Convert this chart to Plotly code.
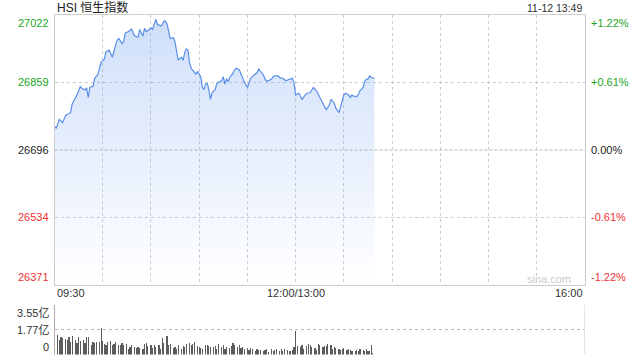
import plotly.graph_objects as go

# ---- data (minutes since 09:30 on the trading-time axis, 150 = 12:00/13:00) ----
price_min = [0, 1, 3, 4, 5, 7, 9, 10, 11, 13, 14, 16, 17, 19, 20, 21, 22, 24, 25, 27,
             28, 29, 31, 32, 34, 36, 38, 39, 40, 42, 43, 44, 46, 48, 49, 50, 52, 53, 55, 56,
             57, 58, 60, 61, 62, 63, 64, 66, 67, 68, 69, 70, 71, 72, 74, 75, 76, 77, 79, 80,
             81, 82, 83, 84, 85, 87, 88, 89, 91, 92, 93, 94, 95, 96, 97, 98, 100, 101, 103, 104,
             105, 106, 107, 108, 109, 111, 112, 113, 115, 116, 117, 118, 120, 121, 122, 123, 125, 126, 127, 129,
             130, 131, 132, 134, 135, 136, 137, 139, 140, 142, 143, 144, 145, 147, 148, 149, 150, 152, 153, 154,
             156, 157, 159, 160, 161, 163, 164, 165, 166, 168, 169, 171, 172, 174, 175, 177, 178, 179, 180, 181,
             183, 184, 185, 186, 188, 189, 190, 192, 193, 194, 195, 196, 197, 199]
price_val = [26754, 26748, 26770, 26767, 26762, 26780, 26783, 26786, 26807, 26821, 26829, 26849, 26845, 26841, 26846, 26823, 26847, 26850, 26869, 26879,
             26897, 26908, 26915, 26933, 26937, 26920, 26949, 26961, 26965, 26953, 26957, 26978, 26982, 26988, 26978, 26971, 26968, 26987, 26971, 26990,
             26982, 26984, 26991, 26987, 26999, 27011, 27000, 26995, 26998, 27007, 27007, 27000, 26982, 26965, 26967, 26957, 26933, 26913, 26920, 26912,
             26931, 26940, 26937, 26907, 26893, 26885, 26879, 26885, 26873, 26847, 26842, 26855, 26857, 26842, 26818, 26834, 26842, 26857, 26861, 26863,
             26873, 26855, 26868, 26861, 26871, 26881, 26889, 26893, 26889, 26879, 26869, 26861, 26847, 26861, 26869, 26873, 26879, 26883, 26891, 26883,
             26877, 26867, 26862, 26865, 26867, 26873, 26875, 26875, 26871, 26869, 26867, 26863, 26865, 26867, 26869, 26858, 26829, 26833, 26823, 26818,
             26829, 26833, 26834, 26841, 26847, 26839, 26831, 26825, 26813, 26799, 26793, 26805, 26818, 26809, 26797, 26786, 26802, 26813, 26829, 26833,
             26829, 26823, 26829, 26826, 26825, 26830, 26839, 26847, 26861, 26867, 26867, 26875, 26871, 26869]

vol_min = [0, 2, 3, 4, 5, 7, 8, 9, 10, 11, 13, 14, 15, 16, 18, 19, 20, 21, 23, 24,
           25, 26, 28, 29, 30, 31, 32, 33, 35, 36, 37, 38, 40, 41, 42, 43, 45, 46, 47, 48,
           50, 51, 52, 53, 55, 56, 57, 58, 60, 61, 62, 63, 65, 66, 67, 68, 70, 71, 72, 74,
           75, 76, 77, 79, 80, 81, 82, 84, 85, 86, 87, 89, 90, 91, 92, 94, 95, 96, 97, 99,
           100, 101, 102, 104, 105, 106, 107, 109, 110, 111, 112, 114, 115, 116, 117, 118, 120, 121, 122, 123,
           125, 126, 127, 128, 130, 131, 132, 133, 135, 136, 137, 138, 140, 141, 142, 143, 145, 146, 147, 148,
           149, 150, 151, 153, 154, 155, 157, 158, 159, 160, 162, 163, 164, 165, 167, 168, 169, 170, 172, 173,
           174, 175, 177, 178, 179, 180, 182, 183, 184, 185, 187, 188, 189, 190, 192, 193, 194, 195, 196, 197, 198]
vol_val = [3.55, 1.38, 1.07, 1.24, 1.19, 1.14, 1.02, 1.24, 0.90, 1.31, 1.07, 0.83, 1.24, 1.00, 1.07, 0.83, 1.24, 1.24, 0.70, 0.90,
           0.83, 0.90, 0.90, 1.88, 0.95, 0.75, 0.66, 0.90, 1.00, 0.70, 0.75, 0.90, 0.66, 0.70, 0.83, 0.66, 0.75, 0.41, 0.51, 0.66,
           0.51, 0.46, 0.56, 0.46, 0.41, 0.75, 0.83, 0.58, 0.66, 0.46, 0.70, 0.51, 0.66, 0.41, 1.19, 0.83, 1.31, 0.70, 0.75, 0.46,
           0.51, 0.41, 0.66, 0.41, 0.58, 0.51, 0.75, 0.83, 0.70, 0.75, 0.90, 0.58, 0.51, 0.46, 0.41, 0.70, 0.66, 0.58, 0.51, 0.56,
           0.58, 0.41, 0.75, 0.51, 0.66, 0.41, 0.51, 0.46, 0.58, 0.83, 0.66, 0.56, 0.66, 0.46, 0.51, 0.41, 0.46, 0.34, 0.46, 0.41,
           0.27, 0.41, 0.34, 0.32, 0.22, 0.32, 0.36, 0.17, 0.36, 0.22, 0.32, 0.36, 0.22, 0.41, 0.27, 0.36, 0.32, 0.27, 0.22, 0.32,
           0.51, 1.68, 0.58, 0.51, 0.66, 0.41, 0.58, 0.75, 0.66, 0.51, 0.46, 0.34, 0.75, 0.70, 0.51, 0.58, 0.61, 0.75, 0.66, 0.41,
           0.56, 0.46, 0.36, 0.32, 0.36, 0.46, 0.32, 0.36, 0.32, 0.27, 0.22, 0.32, 0.27, 0.36, 0.32, 0.27, 0.41, 0.27, 0.22, 0.66, 0.10]

prev_close = 26696
y_ticks = [27022, 26859, 26696, 26534, 26371]
pct_labels = ["+1.22%", "+0.61%", "0.00%", "-0.61%", "-1.22%"]
vol_ticks = [3.55, 1.77, 0]
vol_labels = ["3.55亿", "1.77亿", "0"]
x_tick_vals = [0, 150, 330]
x_tick_text = ["09:30", "12:00/13:00", "16:00"]
title_text = "HSI 恒生指数"
stamp_text = "11-12 13:49"

GREEN = "#22a522"
RED = "#f03333"
BLACK = "#222222"
FONT = "Liberation Sans, Arial, Noto Sans CJK SC, sans-serif"

fig = go.Figure()

fig.add_trace(go.Scatter(
    x=price_min, y=price_val, mode="lines",
    line=dict(color="#5a8fe8", width=1.2),
    fill="tozeroy",
    fillgradient=dict(type="vertical", start=y_ticks[-1], stop=y_ticks[0],
                      colorscale=[[0, "rgba(120,165,240,0.0)"], [1, "rgba(120,165,240,0.36)"]]),
    hoverinfo="skip", xaxis="x", yaxis="y",
))

fig.add_trace(go.Bar(
    x=vol_min, y=vol_val, width=0.75,
    marker=dict(color="#5c5c5c", line=dict(width=0)),
    hoverinfo="skip", xaxis="x2", yaxis="y2",
))

L, R = 54.5 / 640, 585 / 640
fig.update_layout(
    width=640, height=360, margin=dict(l=0, r=0, t=0, b=0),
    paper_bgcolor="white", plot_bgcolor="white",
    showlegend=False, font=dict(family=FONT, size=11, color="#333"),
    bargap=0,
    xaxis=dict(domain=[L, R], range=[0, 330], tickvals=list(range(0, 331, 30)),
               showticklabels=False, ticks="", showgrid=True, gridcolor="#cccccc",
               griddash="dot", gridwidth=1, zeroline=False,
               showline=True, mirror=True, linecolor="#cccccc", linewidth=1, anchor="y"),
    yaxis=dict(domain=[1 - 284.7 / 360, 1 - 14.9 / 360], range=[y_ticks[-1], y_ticks[0]],
               tickvals=[y_ticks[1], y_ticks[3]], showticklabels=False, ticks="",
               showgrid=True, gridcolor="#cccccc", griddash="dot", zeroline=False,
               showline=True, mirror=True, linecolor="#cccccc", linewidth=1, anchor="x"),
    xaxis2=dict(domain=[L, R], range=[0, 330], matches="x", showticklabels=False,
                ticks="", showgrid=False, zeroline=False, showline=False, anchor="y2"),
    yaxis2=dict(domain=[1 - 354.5 / 360, 1 - 305 / 360], range=[0, vol_ticks[0]],
                tickvals=vol_ticks, showticklabels=False, ticks="", showgrid=True,
                gridcolor="#bbbbbb", griddash="dot", zeroline=False, showline=False, anchor="x2"),
)

shapes = [
    dict(type="line", xref="x", yref="y", x0=0, x1=330, y0=prev_close, y1=prev_close,
         line=dict(color="#b4b4b4", width=1, dash="3px,2px")),
    dict(type="line", xref="x2", yref="y2", x0=330, x1=330, y0=0, y1=vol_ticks[0],
         line=dict(color="#cccccc", width=1)),
]
fig.update_layout(shapes=shapes)

ann = []
lcolors = [GREEN, GREEN, BLACK, RED, RED]
anchors = ["top", "middle", "middle", "middle", "bottom"]
for v, pl, c, a in zip(y_ticks, pct_labels, lcolors, anchors):
    ann.append(dict(xref="paper", yref="y", x=51 / 640, y=v, text=str(v), xanchor="right",
                    yanchor=a, showarrow=False, font=dict(size=11, color=c)))
    ann.append(dict(xref="paper", yref="y", x=589 / 640, y=v, text=pl, xanchor="left",
                    yanchor=a, showarrow=False, font=dict(size=11, color=c)))
for v, t, a in zip(vol_ticks, vol_labels, ["top", "middle", "bottom"]):
    ann.append(dict(xref="paper", yref="y2", x=51 / 640, y=v, text=t, xanchor="right",
                    yanchor=a, showarrow=False, font=dict(size=11, color="#333")))
for v, t, a in zip(x_tick_vals, x_tick_text, ["left", "center", "right"]):
    ann.append(dict(xref="x", yref="paper", x=v, y=1 - 293 / 360, text=t, xanchor=a,
                    yanchor="middle", showarrow=False, font=dict(size=11, color="#333")))
ann.append(dict(xref="paper", yref="paper", x=55 / 640, y=1 - 7.5 / 360, text=title_text,
                xanchor="left", yanchor="middle", showarrow=False, font=dict(size=12, color="#222")))
ann.append(dict(xref="paper", yref="paper", x=584 / 640, y=1 - 8 / 360, text=stamp_text,
                xanchor="right", yanchor="middle", showarrow=False, font=dict(size=10.5, color="#333")))
ann.append(dict(xref="paper", yref="paper", x=573 / 640, y=1 - 279 / 360, text="sina.com",
                xanchor="right", yanchor="middle", showarrow=False, font=dict(size=11, color="#cccccc")))
fig.update_layout(annotations=ann)

fig.write_html("out.html", config={"displayModeBar": False, "staticPlot": True})
